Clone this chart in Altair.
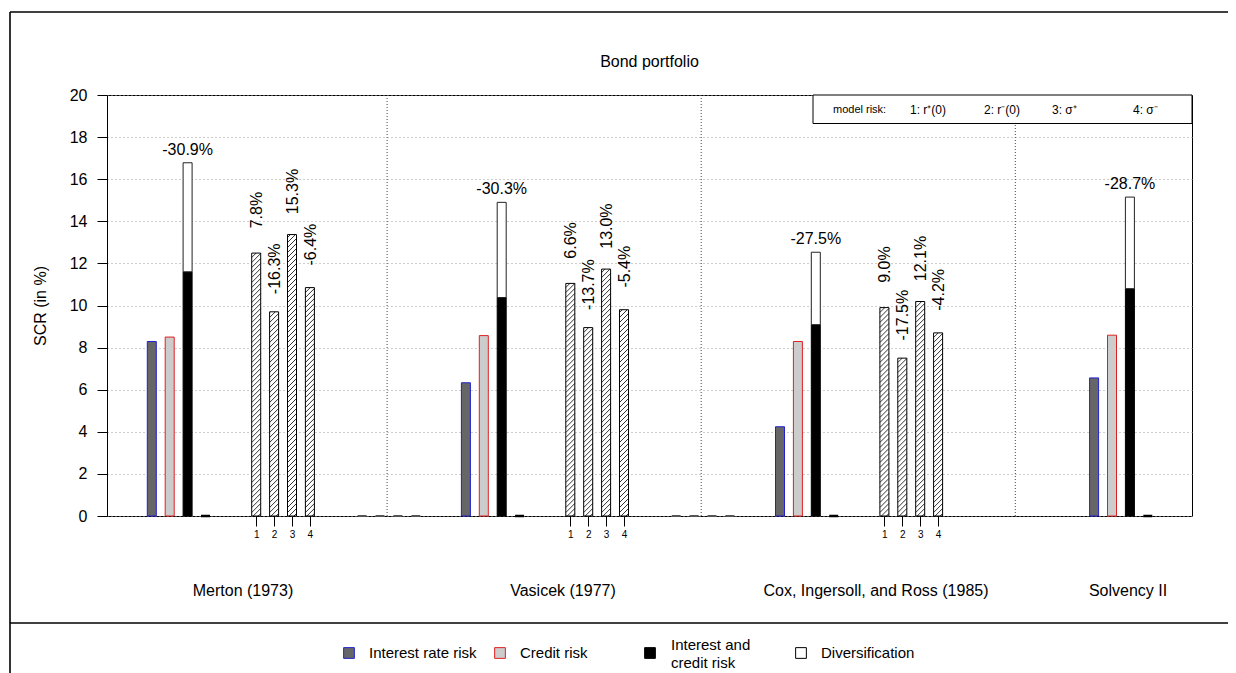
import numpy as np
import pandas as pd
import altair as alt

# ---------------- data ----------------
groups = ["Merton (1973)", "Vasicek (1977)", "Cox, Ingersoll, and Ross (1985)", "Solvency II"]
interest_rate = [8.29, 6.33, 4.24, 6.56]
credit = [8.50, 8.57, 8.29, 8.59]
combined = [11.60, 10.38, 9.09, 10.80]
total = [16.78, 14.90, 12.53, 15.15]
placeholder = [0, 0, 0, 0]
diversification_labels = ["-30.9%", "-30.3%", "-27.5%", "-28.7%"]

model_risk = [
    [12.49, 9.70, 13.37, 10.85],
    [11.05, 8.95, 11.73, 9.80],
    [9.90, 7.50, 10.19, 8.70],
]
model_risk_labels = [
    ["7.8%", "-16.3%", "15.3%", "-6.4%"],
    ["6.6%", "-13.7%", "13.0%", "-5.4%"],
    ["9.0%", "-17.5%", "12.1%", "-4.2%"],
]
extra_zero = [[0, 0, 0, 0], [0, 0, 0, 0]]
scenario_ticks = ["1", "2", "3", "4"]
y_ticks = list(range(0, 21, 2))

legend_labels_single = ["Interest rate risk", "Credit risk", "Diversification"]
legend_label_double = "Interest and\ncredit risk"
model_risk_key = ["model risk:", "1: r\u207a(0)", "2: r\u207b(0)", "3: \u03c3\u207a", "4: \u03c3\u207b"]
title_text = "Bond portfolio"
y_title = "SCR (in %)"

# ---------------- layout (pixels inside plot area) ----------------
W, H = 1085, 421
PX = H / 20.0
GROUP_STEP = 314.1
FIRST_BAR = 44.8
SLOT = 17.9
SUB2 = 104.4
SUB3 = 210.3
SEP_OFF = 235.3
HALF = 4.5
group_label_x = [136, 456, 769, 1021]
legend_sq_x = [242, 393, 543, 694]
legend_tx_single = [262, 413, 714]
legend_tx_double = 564
key_x = [726, 803, 877, 945, 1026]
key_size = [11, 12, 12, 12, 12]
FONT = "Liberation Sans, Arial, Helvetica, sans-serif"

IR_FILL, IR_STROKE = "#666666", "#2020d0"
CR_FILL, CR_STROKE = "#cccccc", "#e02020"

# ---------------- tables ----------------
rows = []
for g in range(4):
    b = FIRST_BAR + g * GROUP_STEP
    rows.append(dict(x=b - HALF, x2=b + HALF, y=0, y2=interest_rate[g], fill=IR_FILL, stroke=IR_STROKE))
    rows.append(dict(x=b + SLOT - HALF, x2=b + SLOT + HALF, y=0, y2=credit[g], fill=CR_FILL, stroke=CR_STROKE))
    c = b + 2 * SLOT
    rows.append(dict(x=c - HALF, x2=c + HALF, y=0, y2=combined[g], fill="#000000", stroke="#000000"))
    rows.append(dict(x=c - HALF, x2=c + HALF, y=combined[g], y2=total[g], fill="#ffffff", stroke="#222222"))
bars = pd.DataFrame(rows)

div_df = pd.DataFrame({
    "x": [FIRST_BAR + g * GROUP_STEP + 2 * SLOT for g in range(4)],
    "y": total,
    "label": diversification_labels,
})

zrows = []
for g in range(4):
    c = FIRST_BAR + g * GROUP_STEP + 3 * SLOT
    zrows.append(dict(x=c - HALF, x2=c + HALF, y=placeholder[g], color="#000000", w=2.5))
for g in range(2):
    for k in range(4):
        c = FIRST_BAR + g * GROUP_STEP + SUB3 + k * SLOT
        zrows.append(dict(x=c - HALF, x2=c + HALF, y=extra_zero[g][k], color="#555555", w=2))
zero_df = pd.DataFrame(zrows)

hrows, lrows = [], []
tick_vals = []
SP = 5.0
for g in range(3):
    for k in range(4):
        c = FIRST_BAR + g * GROUP_STEP + SUB2 + k * SLOT
        tick_vals.append(round(c, 2))
        v = model_risk[g][k]
        hrows.append(dict(x=c - HALF, x2=c + HALF, y=0, y2=v, cx=c + 1,
                          ly=v + 43 / PX, label=model_risk_labels[g][k]))
        h = v * PX
        xl = c - HALF
        w = 2 * HALF
        for cc in np.arange(-w + SP / 2, h, SP):
            x0 = xl + max(0.0, -cc)
            y0 = max(cc, 0.0)
            if cc + w > h:
                x1, y1 = xl + (h - cc), h
            else:
                x1, y1 = xl + w, cc + w
            lrows.append(dict(x=x0, x2=x1, y=y0 / PX, y2=y1 / PX))
hatch_df = pd.DataFrame(hrows)
lines_df = pd.DataFrame(lrows)

sep_df = pd.DataFrame({"x": [FIRST_BAR + g * GROUP_STEP + SEP_OFF for g in range(3)]})
glab_df = pd.DataFrame({"x": group_label_x, "label": groups})
legend_sq_df = pd.DataFrame({
    "sx": legend_sq_x,
    "fill": [IR_FILL, CR_FILL, "#000000", "#ffffff"],
    "stroke": [IR_STROKE, CR_STROKE, "#000000", "#000000"],
})
legend_tx_df = pd.DataFrame({"tx": legend_tx_single, "label": legend_labels_single})
legend_tx2_df = pd.DataFrame({"tx": [legend_tx_double], "label": [legend_label_double]})
key_df = pd.DataFrame({"x": key_x, "label": model_risk_key, "fs": key_size})
one = pd.DataFrame({"a": [0]})

# ---------------- chart ----------------
xscale = alt.Scale(domain=[0, W], nice=False, zero=False)
yscale = alt.Scale(domain=[0, 20], nice=False, zero=False)
labels_list = scenario_ticks * 3
label_expr = ("[" + ",".join("'%s'" % s for s in labels_list) + "][indexof(["
              + ",".join(repr(v) for v in tick_vals) + "], datum.value)]")

xaxis = alt.Axis(values=tick_vals, labelExpr=label_expr, tickSize=10, labelPadding=3,
                 labelFontSize=10, domain=False, grid=False, title=None, labelColor="black",
                 tickColor="black", labelFlush=False, labelOverlap=False)
yaxis = alt.Axis(values=y_ticks, tickSize=10, labelPadding=10, labelFontSize=16,
                 labelColor="black", tickColor="black", domainColor="black",
                 grid=True, gridDash=[1, 3], gridColor="#9a9a9a", title=y_title,
                 titleFontSize=16, titleFontWeight="normal", titleColor="black",
                 titleX=-67, titleY=H / 2, titleAngle=270, titleAlign="center",
                 titleBaseline="middle")


def X(f):
    return alt.X(f, scale=xscale, axis=xaxis)


def Y(f):
    return alt.Y(f, scale=yscale, axis=yaxis)


bar_layer = alt.Chart(bars).mark_rect(strokeWidth=1).encode(
    x=X("x:Q"), x2="x2:Q", y=Y("y:Q"), y2="y2:Q",
    fill=alt.Fill("fill:N", scale=None),
    stroke=alt.Stroke("stroke:N", scale=None),
)

sep_layer = alt.Chart(sep_df).mark_rule(color="#444444", strokeDash=[1, 2], strokeWidth=1).encode(
    x=X("x:Q"), y=alt.value(0), y2=alt.value(H))

hatch_fill = alt.Chart(hatch_df).mark_rect(fill="white", strokeWidth=0).encode(
    x=X("x:Q"), x2="x2:Q", y=Y("y:Q"), y2="y2:Q")
hatch_lines = alt.Chart(lines_df).mark_rule(color="black", strokeWidth=0.8).encode(
    x=X("x:Q"), x2="x2:Q", y=Y("y:Q"), y2="y2:Q")
hatch_outline = alt.Chart(hatch_df).mark_rect(fillOpacity=0, stroke="black", strokeWidth=1).encode(
    x=X("x:Q"), x2="x2:Q", y=Y("y:Q"), y2="y2:Q")
hatch_text = alt.Chart(hatch_df).mark_text(angle=270, align="center", baseline="middle",
                                           fontSize=16, color="black").encode(
    x=X("cx:Q"), y=Y("ly:Q"), text="label:N")

zero_layer = alt.Chart(zero_df).mark_rule().encode(
    x=X("x:Q"), x2="x2:Q", y=Y("y:Q"),
    color=alt.Color("color:N", scale=None),
    strokeWidth=alt.StrokeWidth("w:Q", scale=None))

div_text = alt.Chart(div_df).mark_text(align="center", baseline="middle", dy=-13,
                                       fontSize=16, color="black").encode(
    x=X("x:Q"), y=Y("y:Q"), text="label:N")

key_box = alt.Chart(one).mark_rect(fill="white", stroke="black", strokeWidth=1).encode(
    x=alt.value(706), x2=alt.value(W), y=alt.value(0), y2=alt.value(28.5))
key_text = alt.Chart(key_df).mark_text(align="left", baseline="middle", color="black").encode(
    x=X("x:Q"), y=alt.value(15), text="label:N", size=alt.Size("fs:Q", scale=None))

title_layer = alt.Chart(one).mark_text(align="center", baseline="middle", fontSize=16,
                                       color="black", text=title_text).encode(
    x=alt.value(W / 2), y=alt.value(-33))

glab_layer = alt.Chart(glab_df).mark_text(align="center", baseline="middle", fontSize=16,
                                          color="black").encode(
    x=X("x:Q"), y=alt.value(496), text="label:N")

frame_top = alt.Chart(one).mark_rule(color="black", strokeWidth=1.6).encode(
    x=alt.value(-97), x2=alt.value(1121), y=alt.value(-83))
frame_sep = alt.Chart(one).mark_rule(color="black", strokeWidth=1.6).encode(
    x=alt.value(-97), x2=alt.value(1121), y=alt.value(528))
frame_v = alt.Chart(one).mark_rule(color="black", strokeWidth=1.6).encode(
    x=alt.value(-97), y=alt.value(-83), y2=alt.value(580))

leg_sq = alt.Chart(legend_sq_df).mark_square(size=115, strokeWidth=1, opacity=1).encode(
    x=X("sx:Q"), y=alt.value(558),
    fill=alt.Fill("fill:N", scale=None), stroke=alt.Stroke("stroke:N", scale=None))
leg_tx = alt.Chart(legend_tx_df).mark_text(align="left", baseline="middle", fontSize=15,
                                           color="black").encode(
    x=X("tx:Q"), y=alt.value(558), text="label:N")
leg_tx2 = alt.Chart(legend_tx2_df).mark_text(align="left", baseline="middle", fontSize=15,
                                             lineBreak="\n", lineHeight=18, color="black").encode(
    x=X("tx:Q"), y=alt.value(550), text="label:N")

chart = alt.layer(
    bar_layer, sep_layer, hatch_fill, hatch_lines, hatch_outline, hatch_text, zero_layer,
    div_text, key_box, key_text, title_layer, glab_layer, frame_top, frame_sep, frame_v,
    leg_sq, leg_tx, leg_tx2,
).properties(
    width=W, height=H,
    autosize=alt.AutoSizeParams(type="none"),
    padding={"left": 99, "top": 87, "right": 36, "bottom": 157},
    background="white",
).configure_view(
    stroke="black", strokeWidth=1,
).configure_text(font=FONT).configure_axis(labelFont=FONT, titleFont=FONT)

chart.save("out.html", embed_options={"renderer": "svg", "actions": False})
